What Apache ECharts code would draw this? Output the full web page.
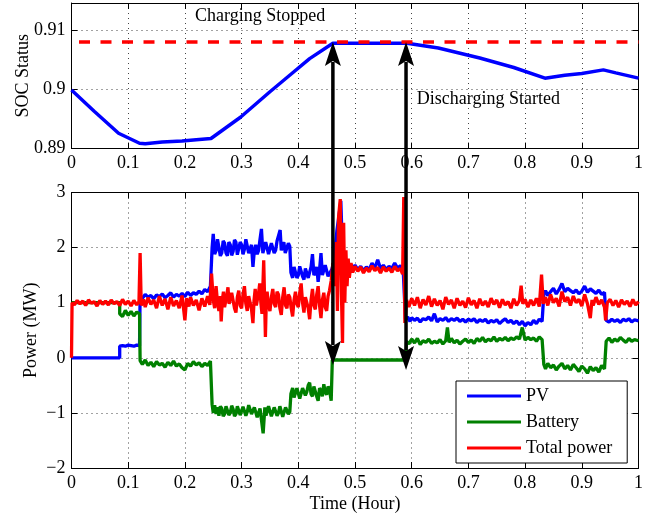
<!DOCTYPE html>
<html><head><meta charset="utf-8">
<script src="https://cdn.jsdelivr.net/npm/echarts@6/dist/echarts.min.js"></script>
<style>html,body{margin:0;padding:0;background:#fff}#c{width:661px;height:518px}</style>
</head><body><div id="c"></div>
<script>
// ---------- data ----------
const socTime  = [0, 0.04, 0.083, 0.12, 0.13, 0.16, 0.195, 0.22, 0.246, 0.298, 0.35, 0.3875, 0.42, 0.461, 0.52, 0.592, 0.647, 0.72, 0.78, 0.835, 0.87, 0.9, 0.938, 0.96, 1];
const socValue = [0.8999, 0.8963, 0.8926, 0.8909, 0.8908, 0.8911, 0.8913, 0.8915, 0.8917, 0.8953, 0.8996, 0.9026, 0.9052, 0.9078, 0.9078, 0.9078, 0.907, 0.9053, 0.9037, 0.9019, 0.9024, 0.9027, 0.9033, 0.9028, 0.9019];
const socLimit = 0.908;

const pvData = [[0,0],[0.085,0],[0.085,0.21],[0.09,0.22],[0.095,0.21],[0.1,0.23],[0.105,0.22],[0.11,0.21],[0.115,0.23],[0.12,0.22],
[0.121,1.12],[0.125,1.08],[0.13,1.15],[0.135,1.1],[0.14,1.13],[0.145,1.07],[0.15,1.14],[0.155,1.11],[0.16,1.16],[0.165,1.09],[0.17,1.13],[0.175,1.18],[0.18,1.1],[0.185,1.15],[0.19,1.12],[0.195,1.17],[0.2,1.11],[0.205,1.19],[0.21,1.13],[0.215,1.18],[0.22,1.15],[0.225,1.21],[0.23,1.16],[0.235,1.24],[0.24,1.2],[0.245,1.3],
[0.248,2.0],[0.25,2.25],[0.2525,1.88],[0.255,1.95],[0.2575,2.15],[0.26,2.12],[0.2625,1.85],[0.265,1.9],[0.2675,2.12],[0.27,2.08],[0.2725,1.9],[0.275,1.85],[0.2775,2.1],[0.28,2.05],[0.2825,1.86],[0.285,1.93],[0.2875,2.14],[0.29,2.1],[0.2925,1.87],[0.295,1.88],[0.2975,2.1],[0.3,2.05],[0.3025,1.88],[0.305,1.97],[0.3075,2.15],[0.31,2.12],[0.3125,1.9],[0.315,1.9],[0.3175,2.05],[0.32,1.65],[0.3225,1.95],[0.325,2.05],[0.3275,1.88],[0.33,1.95],[0.3325,2.15],[0.335,2.34],[0.3375,1.9],[0.34,1.92],[0.3425,2.1],[0.345,2.12],[0.3475,1.88],[0.35,1.85],[0.3525,2.08],[0.355,2.05],[0.3575,1.9],[0.36,1.95],[0.3625,2.12],[0.365,2.15],[0.368,2.32],[0.37,1.95],[0.372,1.98],[0.3745,2.1],[0.377,1.9],[0.38,1.92],[0.3825,2.08],[0.385,2.02],
[0.387,1.55],[0.39,1.45],[0.3925,1.65],[0.395,1.62],[0.3975,1.45],[0.4,1.5],[0.4025,1.66],[0.405,1.68],[0.4075,1.48],[0.41,1.42],[0.4125,1.62],[0.415,1.6],[0.4175,1.45],[0.42,1.48],[0.4225,1.65],[0.425,1.88],[0.4275,1.5],[0.43,1.55],[0.4325,1.65],[0.435,1.38],[0.4375,1.6],[0.44,1.9],[0.4425,1.5],[0.445,1.52],[0.4475,1.68],[0.45,1.65],[0.4525,1.48],[0.455,1.45],[0.459,1.6],
[0.463,1.75],[0.468,2.3],[0.472,2.6],[0.475,2.85],[0.478,1.9],[0.482,1.7],[0.486,1.62],[0.49,1.7],[0.495,1.62],[0.5,1.68],[0.505,1.6],[0.51,1.66],[0.515,1.58],[0.52,1.65],[0.525,1.6],[0.53,1.72],[0.535,1.63],[0.54,1.78],[0.545,1.62],[0.55,1.68],[0.555,1.6],[0.56,1.66],[0.565,1.62],[0.57,1.72],[0.575,1.63],[0.58,1.67],[0.585,1.6],
[0.589,0.7],[0.593,0.74],[0.597,0.66],[0.6,0.73],[0.605,0.68],[0.61,0.72],[0.615,0.65],[0.62,0.71],[0.625,0.69],[0.63,0.74],[0.635,0.67],[0.64,0.8],[0.645,0.65],[0.65,0.71],[0.655,0.68],[0.66,0.73],[0.665,0.66],[0.67,0.71],[0.675,0.68],[0.68,0.72],[0.685,0.66],[0.69,0.7],[0.695,0.65],[0.7,0.7],[0.705,0.67],[0.71,0.71],[0.715,0.64],[0.72,0.69],[0.725,0.66],[0.73,0.7],[0.735,0.63],[0.74,0.68],[0.745,0.65],[0.75,0.69],[0.755,0.62],[0.76,0.67],[0.765,0.71],[0.77,0.64],[0.775,0.68],[0.78,0.62],[0.785,0.67],[0.79,0.6],[0.795,0.66],[0.8,0.58],[0.805,0.64],[0.81,0.6],[0.815,0.68],[0.82,0.62],[0.825,0.7],[0.83,0.66],
[0.833,1.15],[0.836,1.22],[0.84,1.13],[0.845,1.2],[0.85,1.26],[0.855,1.16],[0.86,1.24],[0.865,1.35],[0.87,1.2],[0.875,1.26],[0.88,1.22],[0.885,1.18],[0.89,1.23],[0.895,1.16],[0.9,1.21],[0.905,1.3],[0.91,1.19],[0.915,1.25],[0.92,1.21],[0.925,1.17],[0.93,1.23],[0.935,1.15],[0.94,1.19],
[0.943,0.68],[0.948,0.65],[0.953,0.7],[0.958,0.66],[0.963,0.69],[0.968,0.64],[0.973,0.7],[0.978,0.67],[0.983,0.71],[0.988,0.65],[0.993,0.69],[1,0.67]];

const batteryData = [[0,1.0],[0.085,1.0],[0.085,0.8],[0.09,0.75],[0.095,0.86],[0.1,0.77],[0.105,0.84],[0.11,0.76],[0.115,0.83],[0.12,0.8],
[0.121,-0.05],[0.125,-0.12],[0.13,-0.04],[0.135,-0.14],[0.14,-0.08],[0.145,-0.16],[0.15,-0.07],[0.155,-0.13],[0.16,-0.1],[0.165,-0.17],[0.17,-0.08],[0.175,-0.14],[0.18,-0.06],[0.185,-0.15],[0.19,-0.11],[0.195,-0.18],[0.2,-0.22],[0.205,-0.1],[0.21,-0.15],[0.215,-0.07],[0.22,-0.13],[0.225,-0.09],[0.23,-0.16],[0.235,-0.1],[0.24,-0.14],[0.245,-0.06],
[0.248,-0.85],[0.25,-1.0],[0.2525,-0.86],[0.255,-1.02],[0.2575,-0.9],[0.26,-1.05],[0.2625,-0.88],[0.265,-0.92],[0.2675,-1.06],[0.27,-1.02],[0.2725,-0.88],[0.275,-0.9],[0.2775,-1.04],[0.28,-1.0],[0.2825,-0.87],[0.285,-0.93],[0.2875,-1.06],[0.29,-1.02],[0.2925,-0.88],[0.295,-0.87],[0.2975,-1.04],[0.3,-1.02],[0.3025,-0.89],[0.305,-0.9],[0.3075,-1.05],[0.31,-0.98],[0.3125,-0.86],[0.315,-0.84],[0.3175,-1.02],[0.32,-1.04],[0.3225,-0.9],[0.325,-0.92],[0.3275,-1.08],[0.33,-1.06],[0.3325,-0.92],[0.335,-0.95],[0.338,-1.37],[0.341,-0.9],[0.343,-1.05],[0.345,-1.02],[0.3475,-0.88],[0.35,-0.9],[0.3525,-1.06],[0.355,-1.04],[0.3575,-0.9],[0.36,-0.93],[0.3625,-1.05],[0.365,-1.0],[0.3675,-0.88],[0.37,-0.9],[0.3725,-1.07],[0.375,-1.05],[0.3775,-0.9],[0.38,-0.92],[0.3825,-1.02],[0.385,-0.98],
[0.387,-0.65],[0.39,-0.55],[0.3925,-0.72],[0.395,-0.7],[0.3975,-0.55],[0.4,-0.58],[0.4025,-0.74],[0.405,-0.72],[0.4075,-0.55],[0.41,-0.52],[0.4125,-0.68],[0.415,-0.62],[0.4175,-0.5],[0.42,-0.45],[0.4225,-0.66],[0.425,-0.7],[0.4275,-0.52],[0.43,-0.55],[0.4325,-0.7],[0.435,-0.78],[0.4375,-0.55],[0.44,-0.6],[0.4425,-0.7],[0.445,-0.48],[0.4475,-0.62],[0.45,-0.67],[0.4525,-0.52],[0.455,-0.58],[0.458,-0.78],
[0.46,-0.04],[0.589,-0.04],
[0.591,0.3],[0.595,0.25],[0.6,0.34],[0.605,0.27],[0.61,0.35],[0.615,0.24],[0.62,0.31],[0.625,0.28],[0.63,0.34],[0.635,0.26],[0.64,0.3],[0.645,0.27],[0.65,0.33],[0.655,0.25],[0.66,0.31],[0.663,0.55],[0.666,0.28],[0.67,0.35],[0.675,0.27],[0.68,0.32],[0.685,0.25],[0.69,0.3],[0.695,0.34],[0.7,0.28],[0.705,0.32],[0.71,0.26],[0.715,0.35],[0.72,0.3],[0.725,0.37],[0.73,0.29],[0.735,0.34],[0.74,0.31],[0.745,0.38],[0.75,0.3],[0.755,0.35],[0.76,0.32],[0.765,0.37],[0.77,0.31],[0.775,0.36],[0.78,0.33],[0.785,0.38],[0.79,0.34],[0.795,0.55],[0.8,0.32],[0.805,0.37],[0.81,0.33],[0.815,0.36],[0.82,0.3],[0.825,0.38],[0.83,0.33],
[0.833,-0.12],[0.836,-0.2],[0.84,-0.1],[0.845,-0.18],[0.85,-0.13],[0.855,-0.22],[0.86,-0.15],[0.865,-0.1],[0.87,-0.2],[0.875,-0.14],[0.88,-0.22],[0.885,-0.12],[0.89,-0.18],[0.895,-0.25],[0.9,-0.15],[0.905,-0.2],[0.91,-0.28],[0.915,-0.16],[0.92,-0.23],[0.925,-0.18],[0.93,-0.26],[0.935,-0.14],[0.94,-0.2],
[0.943,0.3],[0.948,0.36],[0.953,0.28],[0.958,0.34],[0.963,0.3],[0.968,0.37],[0.973,0.32],[0.978,0.28],[0.983,0.35],[0.988,0.3],[0.993,0.33],[1,0.31]];

const totalData = [[0,0],[0.001,1.0],[0.005,0.96],[0.01,1.04],[0.015,0.98],[0.02,1.03],[0.025,0.95],[0.03,1.05],[0.035,0.99],[0.04,1.02],[0.045,0.94],[0.05,1.04],[0.055,0.97],[0.06,1.03],[0.065,0.96],[0.07,1.05],[0.075,0.98],[0.08,1.02],[0.085,0.95],[0.09,1.06],[0.095,0.97],[0.1,1.03],[0.105,0.94],[0.11,1.04],[0.115,0.96],[0.119,1.02],[0.121,1.9],[0.123,0.95],[0.127,1.06],[0.13,0.92],[0.135,1.09],[0.14,0.97],[0.145,1.05],[0.15,0.9],[0.155,1.12],[0.16,0.95],[0.165,1.07],[0.17,0.88],[0.175,1.1],[0.18,0.94],[0.185,1.04],[0.19,0.9],[0.195,1.13],[0.2,0.68],[0.203,1.08],[0.207,0.93],[0.21,1.1],[0.215,0.95],[0.22,1.05],[0.225,0.86],[0.23,1.08],[0.235,0.93],[0.24,1.12],[0.244,0.96],
[0.247,1.53],[0.25,1.05],[0.2525,0.9],[0.255,1.3],[0.2575,1.0],[0.26,0.85],[0.2625,1.12],[0.264,0.66],[0.266,1.05],[0.268,1.2],[0.27,0.92],[0.272,0.9],[0.274,1.15],[0.276,1.28],[0.278,0.98],[0.28,0.95],[0.2825,1.18],[0.285,1.15],[0.2875,0.9],[0.29,0.82],[0.2925,1.1],[0.295,1.22],[0.2975,0.95],[0.3,0.9],[0.3025,1.15],[0.305,1.3],[0.3075,0.98],[0.31,0.85],[0.3125,1.12],[0.315,1.1],[0.3175,0.88],[0.32,0.63],[0.322,1.05],[0.324,1.25],[0.326,0.95],[0.328,0.92],[0.33,1.18],[0.332,1.35],[0.334,1.0],[0.336,0.8],[0.339,1.77],[0.342,0.38],[0.3435,1.0],[0.345,1.2],[0.3475,0.95],[0.35,0.85],[0.3525,1.1],[0.355,1.25],[0.3575,0.98],[0.36,0.92],[0.3625,1.2],[0.365,1.15],[0.3675,0.9],[0.37,0.78],[0.3725,1.1],[0.375,1.28],[0.3775,0.95],[0.38,0.9],[0.3825,1.15],[0.385,1.1],[0.3875,0.9],[0.39,0.75],[0.3925,1.05],[0.395,1.2],[0.3975,0.98],[0.4,0.92],[0.4025,1.18],[0.405,1.35],[0.4075,1.0],[0.41,0.82],[0.4125,1.1],[0.415,1.12],[0.4175,0.9],[0.42,0.7],[0.4225,1.05],[0.425,1.25],[0.4275,0.95],[0.43,0.88],[0.4325,1.15],[0.435,1.3],[0.4375,0.95],[0.44,0.72],[0.4425,1.05],[0.445,1.18],[0.4475,0.92],[0.45,0.85],[0.4525,1.12],[0.455,1.22],
[0.458,1.4],[0.461,1.72],[0.464,1.3],[0.467,2.1],[0.469,0.85],[0.471,2.55],[0.474,2.88],[0.476,1.2],[0.478,0.27],[0.48,2.45],[0.482,1.0],[0.484,1.95],[0.486,1.3],[0.488,1.8],[0.49,1.45],[0.493,1.72],[0.496,1.55],[0.5,1.66],[0.505,1.57],[0.51,1.65],[0.515,1.54],[0.52,1.63],[0.525,1.56],[0.53,1.67],[0.535,1.58],[0.54,1.64],[0.545,1.54],[0.55,1.65],[0.555,1.57],[0.56,1.63],[0.565,1.55],[0.57,1.66],[0.575,1.58],[0.58,1.62],[0.584,1.52],[0.586,2.92],[0.588,0.63],
[0.591,1.05],[0.595,0.92],[0.6,1.08],[0.605,0.95],[0.61,1.1],[0.615,0.9],[0.62,1.06],[0.625,0.96],[0.63,1.12],[0.635,0.93],[0.64,1.07],[0.645,0.95],[0.65,1.04],[0.655,0.88],[0.66,1.1],[0.665,0.97],[0.67,1.05],[0.675,0.9],[0.68,1.08],[0.685,0.95],[0.69,1.03],[0.695,0.91],[0.7,1.09],[0.705,0.96],[0.71,1.04],[0.715,0.9],[0.72,1.07],[0.725,0.95],[0.73,1.03],[0.735,0.92],[0.74,1.08],[0.745,0.97],[0.75,1.05],[0.755,0.91],[0.76,1.06],[0.765,0.96],[0.77,1.02],[0.775,0.9],[0.78,1.07],[0.785,0.95],[0.79,1.04],[0.793,1.31],[0.796,0.98],[0.8,1.06],[0.805,0.92],[0.81,1.05],[0.815,0.95],[0.82,1.08],[0.825,0.93],[0.829,1.51],[0.832,0.98],[0.836,1.1],[0.84,0.95],[0.845,1.15],[0.85,1.0],[0.855,1.08],[0.86,0.93],[0.865,1.2],[0.87,1.02],[0.875,1.1],[0.88,0.95],[0.885,1.12],[0.89,1.0],[0.895,1.06],[0.9,0.94],[0.905,1.15],[0.91,0.98],[0.915,0.72],[0.918,1.05],[0.92,0.95],[0.925,1.1],[0.93,0.97],[0.935,1.05],[0.94,0.92],[0.942,0.68],[0.945,1.0],[0.95,1.06],[0.955,0.95],[0.96,1.04],[0.965,0.92],[0.97,1.05],[0.975,0.97],[0.98,1.03],[0.985,0.93],[0.99,1.06],[0.995,0.96],[1,1.02]];

const seriesNames = ['PV', 'Battery', 'Total power'];
const arrowTime = [0.461, 0.590];
const arrowTopValue = [0.908, 0.908];
const arrowBottomValue = [-0.13, -0.22];
const noteText = ['Charging Stopped', 'Discharging Started'];
const noteTime = [0.218, 0.609];
const noteValue = [0.9124, 0.8983];

// ---------- chart ----------
const FF = "'Liberation Serif', 'Times New Roman', serif";
const chart = echarts.init(document.getElementById('c'), null, {renderer: 'canvas'});
const minus = v => String(v).replace('-', '\u2212');

function axisBase(gridIndex, position, withLabels, extra) {
  return Object.assign({
    type: 'value', gridIndex, position,
    nameMoveOverlap: false,
    axisLine: {show: true, onZero: false, lineStyle: {color: '#000', width: 1}},
    axisTick: {show: true, inside: true, length: 6, lineStyle: {color: '#000', width: 1}},
    axisLabel: {show: withLabels, margin: 6, color: '#000', fontFamily: FF, fontSize: 18, formatter: minus},
    splitLine: {show: withLabels, lineStyle: {color: '#444', width: 1, type: [1, 4]}},
    nameTextStyle: {color: '#000', fontFamily: FF, fontSize: 18}
  }, extra);
}

const xRange = {min: 0, max: 1, interval: 0.1};
const socRange = {min: 0.89, max: 0.9146, interval: 0.01};
const powRange = {min: -2, max: 3, interval: 1};

const option = {
  animation: false,
  backgroundColor: '#fff',
  grid: [
    {left: 71.5, right: 22.5, top: 3, height: 145.6},
    {left: 71.5, right: 22.5, top: 192.5, height: 276.5}
  ],
  xAxis: [
    axisBase(0, 'bottom', true, xRange),
    axisBase(0, 'top', false, xRange),
    axisBase(1, 'bottom', true, Object.assign({name: 'Time (Hour)', nameLocation: 'middle', nameGap: 27}, xRange)),
    axisBase(1, 'top', false, xRange)
  ],
  yAxis: [
    (() => { const a = axisBase(0, 'left', true, Object.assign({name: 'SOC Status', nameLocation: 'middle', nameGap: 39}, socRange)); a.axisLabel.showMaxLabel = false; return a; })(),
    axisBase(0, 'right', false, socRange),
    axisBase(1, 'left', true, Object.assign({name: 'Power (MW)', nameLocation: 'middle', nameGap: 31}, powRange)),
    axisBase(1, 'right', false, powRange)
  ],
  legend: {
    data: seriesNames,
    left: 456, top: 381, orient: 'vertical',
    icon: 'rect', itemWidth: 54, itemHeight: 3, itemGap: 8,
    padding: [6, 15, 6, 11],
    borderColor: '#000', borderWidth: 1, borderRadius: 0, backgroundColor: '#fff',
    selectedMode: false,
    textStyle: {color: '#000', fontFamily: FF, fontSize: 18, lineHeight: 18},
    z: 10
  },
  series: [
    {type: 'line', name: 'SOC', xAxisIndex: 0, yAxisIndex: 0, data: socTime.map((t, i) => [t, socValue[i]]),
     showSymbol: false, symbol: 'none', lineStyle: {color: '#0000ff', width: 3.5}, itemStyle: {color: '#0000ff'}, z: 2},
    {type: 'line', name: 'limit', xAxisIndex: 0, yAxisIndex: 0, data: [[0, socLimit], [1, socLimit]],
     showSymbol: false, symbol: 'none', lineStyle: {color: '#ff0000', width: 3.5, type: [11, 10.5], dashOffset: 14}, z: 3},
    {type: 'line', name: seriesNames[0], xAxisIndex: 2, yAxisIndex: 2, data: pvData,
     showSymbol: false, symbol: 'none', lineStyle: {color: '#0000ff', width: 3.3}, itemStyle: {color: '#0000ff'}, z: 2},
    {type: 'line', name: seriesNames[1], xAxisIndex: 2, yAxisIndex: 2, data: batteryData,
     showSymbol: false, symbol: 'none', lineStyle: {color: '#008000', width: 3.3}, itemStyle: {color: '#008000'}, z: 3},
    {type: 'line', name: seriesNames[2], xAxisIndex: 2, yAxisIndex: 2, data: totalData,
     showSymbol: false, symbol: 'none', lineStyle: {color: '#ff0000', width: 3.3}, itemStyle: {color: '#ff0000'}, z: 4}
  ]
};
chart.setOption(option);

// ---------- annotations (positions derived from the axes) ----------
const graphics = [];
const headLen = 24, headHalf = 8;
arrowTime.forEach((t, i) => {
  const top = chart.convertToPixel({gridIndex: 0}, [t, arrowTopValue[i]]);
  const bot = chart.convertToPixel({gridIndex: 1}, [t, arrowBottomValue[i]]);
  const x = top[0];
  graphics.push({type: 'line', z: 20, shape: {x1: x, y1: top[1] + headLen - 4, x2: x, y2: bot[1] - headLen + 4},
    style: {stroke: '#000', lineWidth: 3.5}});
  graphics.push({type: 'polygon', z: 20, shape: {points: [[x, top[1]], [x - headHalf, top[1] + headLen], [x, top[1] + headLen - 5], [x + headHalf, top[1] + headLen]]},
    style: {fill: '#000'}});
  graphics.push({type: 'polygon', z: 20, shape: {points: [[x, bot[1]], [x - headHalf, bot[1] - headLen], [x, bot[1] - headLen + 5], [x + headHalf, bot[1] - headLen]]},
    style: {fill: '#000'}});
});
noteText.forEach((txt, i) => {
  const p = chart.convertToPixel({gridIndex: 0}, [noteTime[i], noteValue[i]]);
  graphics.push({type: 'text', z: 20, x: p[0], y: p[1],
    style: {text: txt, font: '18px ' + FF, fill: '#000', textAlign: 'left', textVerticalAlign: 'middle', align: 'left', verticalAlign: 'middle'}});
});
chart.setOption({graphic: graphics});
</script>
</body></html>
